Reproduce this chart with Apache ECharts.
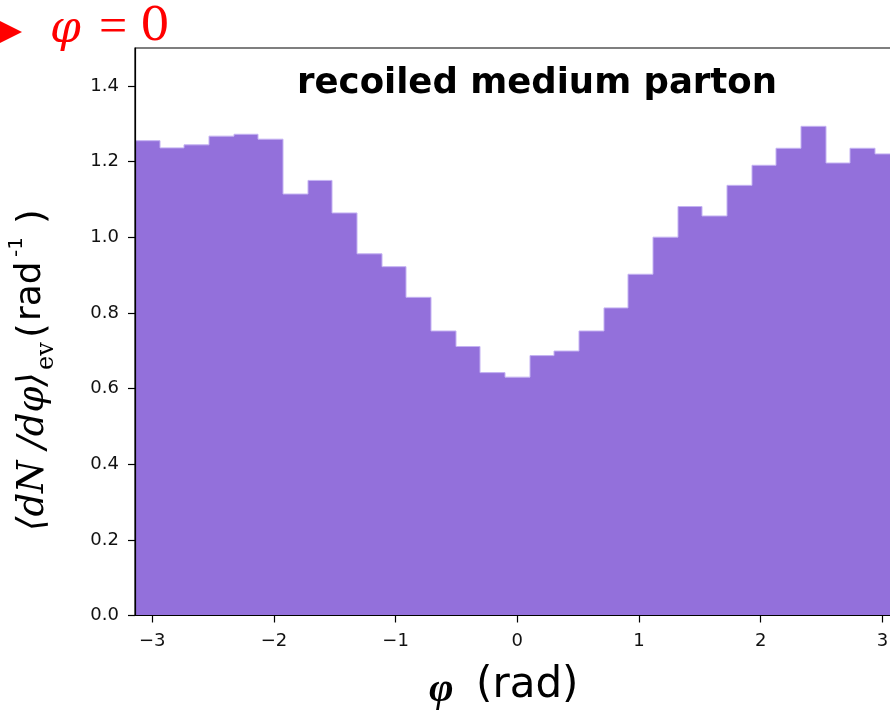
<!DOCTYPE html>
<html>
<head>
<meta charset="utf-8">
<script src="https://cdn.jsdelivr.net/npm/echarts@6/dist/echarts.min.js"></script>
<style>
html,body{margin:0;padding:0;background:#fff;}
#main{width:890px;height:714px;}
</style>
</head>
<body>
<div id="main"></div>
<script>
// ---- data ----
const binCount = 31;
const phiMin = -Math.PI;
const phiMax = Math.PI;
const binValues = [1.255, 1.236, 1.244, 1.267, 1.272, 1.259, 1.114, 1.150, 1.064, 0.956,
                   0.922, 0.841, 0.752, 0.711, 0.642, 0.630, 0.687, 0.699, 0.752, 0.813,
                   0.902, 1.000, 1.081, 1.056, 1.137, 1.190, 1.235, 1.293, 1.196, 1.235, 1.220];
const xTicks = [-3, -2, -1, 0, 1, 2, 3];
const yTicks = [0.0, 0.2, 0.4, 0.6, 0.8, 1.0, 1.2, 1.4];
const titleText = 'recoiled medium parton';

const binW = (phiMax - phiMin) / binCount;
const seriesData = binValues.map((v, i) => [i, v]);

const chart = echarts.init(document.getElementById('main'), null, {renderer: 'canvas'});
const tickFont = {fontFamily: 'DejaVu Sans', fontSize: 18, color: '#111'};

const option = {
  backgroundColor: '#fff',
  animation: false,
  grid: {left: 135, top: 48, width: 764.6, height: 567.5, show: true,
         outerBoundsMode: 'none', containLabel: false,
         borderColor: '#000', borderWidth: 1.2, backgroundColor: 'transparent'},
  xAxis: {
    type: 'value', min: phiMin, max: phiMax, z: 10,
    axisLine: {show: true, onZero: false, lineStyle: {color: '#000', width: 1.2}},
    axisTick: {show: true, length: 7, lineStyle: {color: '#000', width: 1.2}, customValues: xTicks},
    axisLabel: Object.assign({margin: 17, customValues: xTicks,
      formatter: v => (v < 0 ? '\u2212' + Math.abs(v) : String(v))}, tickFont),
    splitLine: {show: false}
  },
  yAxis: {
    type: 'value', min: 0, max: 1.5, z: 10,
    axisLine: {show: true, onZero: false, lineStyle: {color: '#000', width: 1.2}},
    axisTick: {show: true, length: 7, lineStyle: {color: '#000', width: 1.2}, customValues: yTicks},
    axisLabel: Object.assign({margin: 16, customValues: yTicks,
      formatter: v => v.toFixed(1)}, tickFont),
    splitLine: {show: false}
  },
  series: [{
    type: 'custom',
    clip: true,
    data: seriesData,
    renderItem: function (params, api) {
      const i = api.value(0);
      const v = api.value(1);
      const x0 = phiMin + i * binW;
      const x1 = x0 + binW;
      const pTop = api.coord([x0, v]);
      const pEnd = api.coord([x1, 0]);
      const prev = i > 0 ? binValues[i - 1] : 0;
      const pPrev = api.coord([x0, prev]);
      const left = Math.round(pTop[0]);
      const right = Math.round(pEnd[0]);
      return {
        type: 'group',
        children: [
          {type: 'rect', shape: {x: left, y: pTop[1], width: right - left, height: pEnd[1] - pTop[1]},
           style: {fill: '#9370DB'}},
          {type: 'polyline', shape: {points: [[left, pPrev[1]], [left, pTop[1]], [right, pTop[1]]]},
           style: {stroke: '#c4b2f2', lineWidth: 1, fill: null}}
        ]
      };
    }
  }],
  graphic: [
    // title inside plot
    {type: 'text', x: 537, y: 84, z: 20,
     style: {text: titleText, fontFamily: 'DejaVu Sans', fontWeight: 'bold', fontSize: 35.5,
             fill: '#000', textAlign: 'center', textVerticalAlign: 'middle'}},
    // red marker  φ = 0
    {type: 'polygon', z: 20, shape: {points: [[0, 21], [22, 32], [0, 43]]}, style: {fill: '#ff0000'}},
    {type: 'text', x: 50, y: 31, z: 20,
     style: {text: '\u03C6', fontFamily: 'DejaVu Serif', fontStyle: 'italic', fontSize: 44,
             fill: '#ff0000', textAlign: 'left', textVerticalAlign: 'middle'}},
    {type: 'text', x: 99, y: 29, z: 20,
     style: {text: '=', fontFamily: 'Liberation Serif', fontSize: 50,
             fill: '#ff0000', textAlign: 'left', textVerticalAlign: 'middle'}},
    {type: 'text', x: 140, y: 28, z: 20,
     style: {text: '0', fontFamily: 'DejaVu Serif', fontSize: 47,
             fill: '#ff0000', textAlign: 'left', textVerticalAlign: 'middle'}},
    // x axis title
    {type: 'text', x: 429, y: 690, z: 20,
     style: {text: '\u03C6', fontFamily: 'Liberation Serif', fontStyle: 'italic', fontWeight: 'bold', fontSize: 42,
             fill: '#000', textAlign: 'left', textVerticalAlign: 'middle'}},
    {type: 'text', x: 476, y: 686, z: 20,
     style: {text: '(rad)', fontFamily: 'DejaVu Sans', fontSize: 42,
             fill: '#000', textAlign: 'left', textVerticalAlign: 'middle'}},
    // y axis title (rotated, reading bottom to top)
    {type: 'text', x: 33, y: 531, rotation: Math.PI / 2, z: 20,
     style: {text: '\u27E8dN /d\u03C6\u27E9', fontFamily: 'DejaVu Serif', fontStyle: 'italic', fontSize: 37,
             fill: '#000', textAlign: 'left', textVerticalAlign: 'middle'}},
    {type: 'text', x: 47, y: 370, rotation: Math.PI / 2, z: 20,
     style: {text: 'ev', fontFamily: 'DejaVu Serif', fontSize: 24,
             fill: '#000', textAlign: 'left', textVerticalAlign: 'middle'}},
    {type: 'text', x: 33, y: 338, rotation: Math.PI / 2, z: 20,
     style: {text: '(', fontFamily: 'DejaVu Sans', fontSize: 38,
             fill: '#000', textAlign: 'left', textVerticalAlign: 'middle'}},
    {type: 'text', x: 31, y: 321, rotation: Math.PI / 2, z: 20,
     style: {text: 'rad', fontFamily: 'DejaVu Sans', fontSize: 36,
             fill: '#000', textAlign: 'left', textVerticalAlign: 'middle'}},
    {type: 'text', x: 17, y: 257, rotation: Math.PI / 2, z: 20,
     style: {text: '-1', fontFamily: 'DejaVu Sans', fontSize: 20,
             fill: '#000', textAlign: 'left', textVerticalAlign: 'middle'}},
    {type: 'text', x: 33, y: 224, rotation: Math.PI / 2, z: 20,
     style: {text: ')', fontFamily: 'DejaVu Sans', fontSize: 38,
             fill: '#000', textAlign: 'left', textVerticalAlign: 'middle'}}
  ]
};
chart.setOption(option);
</script>
</body>
</html>
